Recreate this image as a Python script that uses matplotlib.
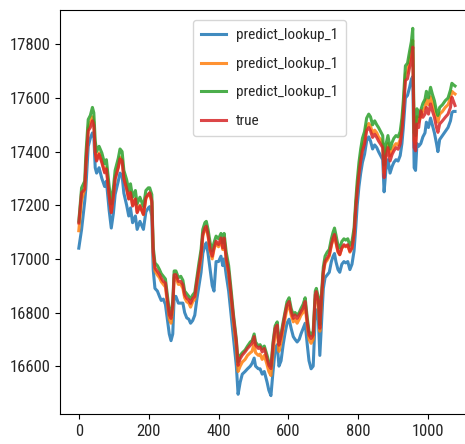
import matplotlib
matplotlib.use("Agg")
import matplotlib.pyplot as plt

# sample positions (row index) shared by all series
idx = [0, 8, 17, 20, 27, 33, 39, 43, 47, 51, 58, 66, 74, 79, 87, 93, 99, 104, 113, 118,
       124, 129, 137, 143, 148, 154, 162, 167, 175, 185, 192, 199, 203, 209,
       213, 218, 225, 231, 236, 242, 248, 253, 259, 264, 269, 273, 278, 285, 292, 298,
       303, 309, 315, 320, 326, 332, 338, 344, 350, 355, 361, 365, 370, 376, 382, 387,
       393, 400, 407, 412, 416, 422, 429, 436, 443, 451, 456, 462, 468, 476, 483, 491,
       496, 502, 506, 514, 519, 525, 531, 539, 544, 550, 556, 562, 568, 573, 579, 585,
       590, 596, 602, 608, 614, 619, 625, 631, 636, 642, 648, 654, 659, 665, 671, 677,
       680, 686, 690, 694, 700, 705, 711, 717, 723, 728, 732, 736, 742, 747, 753, 759,
       764, 770, 776, 782, 788, 793, 797, 802, 807, 812, 818, 824, 830, 835, 841, 847,
       853, 858, 864, 870, 874, 879, 885, 891, 897, 902, 908, 914, 920, 925, 929, 935,
       941, 947, 952, 956, 960, 964, 968, 973, 979, 985, 991, 995, 1001, 1007, 1012, 1018,
       1024, 1028, 1033, 1041, 1049, 1057, 1064, 1068, 1072, 1077]

pred_a = [17040, 17110, 17215, 17260, 17420, 17450, 17470, 17460, 17340, 17320, 17340, 17300,
          17270, 17290, 17180, 17115, 17170, 17240, 17290, 17320, 17310, 17245, 17200, 17160,
          17190, 17135, 17160, 17110, 17140, 17110, 17175, 17190, 17195, 17160,
          16960, 16890, 16880, 16860, 16845, 16850, 16830, 16780, 16720, 16695, 16720, 16860,
          16860, 16835, 16835, 16835, 16800, 16780, 16775, 16760, 16770, 16790, 16850, 16900,
          16950, 17020, 17050, 17060, 17020, 16960, 16900, 16880, 16990, 16990, 17010, 16975,
          17000, 16940, 16880, 16790, 16700, 16600, 16495, 16540, 16570, 16580, 16590, 16600,
          16610, 16630, 16600, 16590, 16590, 16570, 16580, 16540, 16510, 16490, 16580, 16660,
          16680, 16600, 16620, 16680, 16720, 16760, 16775, 16740, 16710, 16700, 16690, 16700,
          16720, 16740, 16760, 16680, 16620, 16590, 16600, 16790, 16810, 16770, 16640, 16740,
          16890, 16930, 16940, 16950, 16990, 17010, 17020, 16990, 16960, 16950, 16980, 16990,
          16985, 16990, 16960, 16980, 17030, 17120, 17200, 17270, 17320, 17360, 17390, 17440,
          17455, 17440, 17410, 17425, 17415, 17400, 17385, 17370, 17250, 17330, 17370, 17320,
          17345, 17360, 17370, 17365, 17385, 17430, 17490, 17600, 17610, 17640, 17670, 17680,
          17340, 17330, 17430, 17420, 17430, 17455, 17470, 17510, 17490, 17525, 17500, 17470,
          17430, 17400, 17445, 17460, 17475, 17490, 17515, 17545, 17550, 17550]

pred_b = [17105, 17220, 17260, 17340, 17490, 17510, 17530, 17510, 17400, 17370, 17395, 17365,
          17325, 17340, 17240, 17175, 17235, 17300, 17345, 17380, 17370, 17305, 17265, 17225,
          17250, 17200, 17225, 17175, 17200, 17165, 17225, 17240, 17245, 17210,
          17015, 16955, 16940, 16930, 16915, 16905, 16895, 16840, 16775, 16760, 16810, 16930,
          16930, 16905, 16905, 16890, 16855, 16840, 16835, 16820, 16840, 16850, 16905, 16955,
          17005, 17085, 17110, 17115, 17085, 17030, 17000, 17035, 17060, 17045, 17070, 17035,
          17070, 16995, 16945, 16855, 16760, 16670, 16580, 16600, 16615, 16625, 16640, 16650,
          16655, 16685, 16650, 16640, 16645, 16625, 16640, 16605, 16580, 16565, 16650, 16720,
          16730, 16655, 16690, 16740, 16775, 16815, 16825, 16790, 16765, 16775, 16760, 16775,
          16790, 16800, 16825, 16750, 16700, 16685, 16700, 16850, 16865, 16830, 16730, 16830,
          16945, 16985, 16995, 17010, 17050, 17075, 17085, 17060, 17025, 17015, 17040, 17050,
          17045, 17050, 17025, 17040, 17095, 17200, 17265, 17330, 17380, 17420, 17445, 17495,
          17505, 17495, 17470, 17480, 17470, 17455, 17445, 17430, 17320, 17395, 17430, 17385,
          17405, 17420, 17430, 17425, 17445, 17495, 17560, 17690, 17700, 17745, 17780, 17815,
          17440, 17430, 17530, 17510, 17530, 17555, 17565, 17595, 17575, 17605, 17585, 17560,
          17525, 17510, 17540, 17550, 17565, 17575, 17600, 17625, 17620, 17615]

pred_c = [17140, 17265, 17290, 17385, 17520, 17535, 17565, 17545, 17440, 17400, 17420, 17395,
          17355, 17370, 17270, 17205, 17265, 17330, 17375, 17410, 17400, 17330, 17295, 17255,
          17280, 17230, 17255, 17205, 17230, 17195, 17255, 17265, 17265, 17240,
          17045, 16985, 16975, 16960, 16945, 16935, 16925, 16870, 16805, 16790, 16845, 16955,
          16955, 16930, 16935, 16920, 16880, 16870, 16860, 16850, 16865, 16875, 16930, 16985,
          17035, 17110, 17135, 17140, 17110, 17060, 17030, 17060, 17085, 17075, 17095, 17060,
          17095, 17025, 16975, 16885, 16790, 16700, 16615, 16640, 16650, 16660, 16675, 16690,
          16695, 16720, 16690, 16675, 16680, 16665, 16675, 16640, 16615, 16600, 16690, 16750,
          16765, 16690, 16720, 16765, 16800, 16840, 16855, 16815, 16790, 16800, 16790, 16800,
          16815, 16830, 16855, 16780, 16730, 16715, 16730, 16880, 16890, 16855, 16755, 16855,
          16970, 17010, 17025, 17035, 17075, 17100, 17115, 17090, 17050, 17040, 17065, 17075,
          17070, 17075, 17050, 17065, 17115, 17220, 17290, 17360, 17410, 17450, 17475, 17525,
          17540, 17530, 17500, 17515, 17500, 17490, 17475, 17460, 17350, 17425, 17460, 17410,
          17435, 17450, 17460, 17455, 17475, 17525, 17590, 17720, 17730, 17775, 17810, 17860,
          17470, 17460, 17560, 17530, 17555, 17580, 17595, 17625, 17600, 17640, 17615, 17590,
          17550, 17535, 17565, 17575, 17590, 17600, 17630, 17655, 17650, 17645]

true_vals = [17134, 17247, 17260, 17347, 17478, 17490, 17515, 17497, 17397, 17365, 17390, 17359,
             17321, 17335, 17234, 17172, 17234, 17298, 17340, 17373, 17365, 17298, 17260, 17223,
             17247, 17197, 17223, 17172, 17197, 17166, 17228, 17241, 17247, 17216,
             17028, 16966, 16953, 16942, 16928, 16916, 16910, 16853, 16791, 16778, 16828, 16941,
             16941, 16916, 16916, 16903, 16866, 16853, 16847, 16834, 16853, 16860, 16916, 16966,
             17016, 17091, 17116, 17122, 17091, 17035, 17010, 17041, 17066, 17053, 17078, 17041,
             17078, 17003, 16953, 16866, 16778, 16691, 16603, 16628, 16641, 16653, 16666, 16678,
             16685, 16710, 16678, 16666, 16672, 16653, 16666, 16628, 16603, 16591, 16678, 16741,
             16753, 16678, 16710, 16753, 16791, 16828, 16841, 16803, 16778, 16791, 16778, 16791,
             16803, 16816, 16841, 16766, 16716, 16703, 16716, 16866, 16878, 16841, 16741, 16841,
             16953, 16991, 17003, 17016, 17053, 17078, 17091, 17066, 17028, 17016, 17041, 17053,
             17047, 17053, 17028, 17041, 17091, 17191, 17253, 17316, 17365, 17403, 17428, 17478,
             17490, 17478, 17453, 17465, 17453, 17440, 17428, 17415, 17303, 17378, 17415, 17365,
             17390, 17403, 17415, 17409, 17428, 17478, 17540, 17665, 17672, 17715, 17740, 17790,
             17415, 17403, 17503, 17490, 17553, 17528, 17540, 17565, 17540, 17578, 17553, 17528,
             17490, 17472, 17503, 17515, 17528, 17540, 17565, 17603, 17590, 17572]

series = [("predict_lookup_1", pred_a, "tab:blue"),
          ("predict_lookup_1", pred_b, "tab:orange"),
          ("predict_lookup_1", pred_c, "tab:green"),
          ("true", true_vals, "tab:red")]

# narrow face so the labels keep their squeezed look
fam = ["Roboto Condensed", "Archivo Narrow", "DejaVu Sans"]

fig = plt.figure(figsize=(4.65, 4.44), dpi=100)
ax = fig.add_axes([0.129, 0.0676, 0.890, 0.910])

for name, vals, col in series:
    ax.plot(idx, vals, color=col, lw=2.2, alpha=0.85, label=name)

ax.set_xticks([0, 200, 400, 600, 800, 1000])
ax.set_yticks([16600, 16800, 17000, 17200, 17400, 17600, 17800])
for lab in ax.get_xticklabels() + ax.get_yticklabels():
    lab.set_fontfamily(fam)
    lab.set_fontsize(12)
    lab.set_color("#262626")

leg = ax.legend(loc="upper left", bbox_to_anchor=(0.321, 0.975), borderaxespad=0,
                prop={"family": fam, "size": 11},
                handlelength=1.6, handletextpad=0.65, labelspacing=0.95, borderpad=0.55)
for t in leg.get_texts():
    t.set_color("#262626")

fig.savefig("out.png", dpi=100)
